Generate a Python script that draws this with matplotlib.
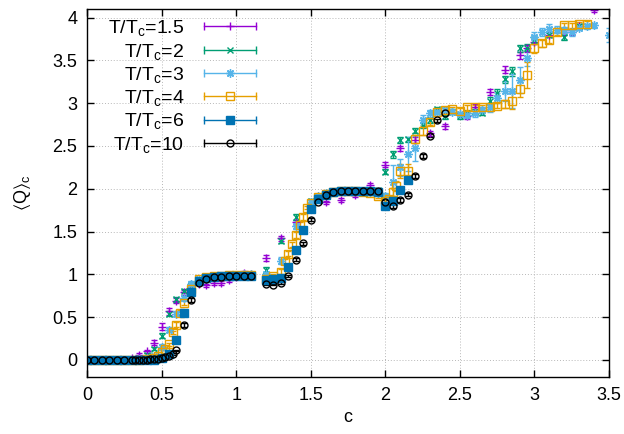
import matplotlib
matplotlib.use("Agg")
import matplotlib.pyplot as plt
from matplotlib.lines import Line2D
from matplotlib.legend_handler import HandlerBase

plt.rcParams['font.family'] = ['Liberation Sans', 'DejaVu Sans']
plt.rcParams['mathtext.fontset'] = 'custom'
plt.rcParams['mathtext.rm'] = 'Liberation Sans'
plt.rcParams['mathtext.it'] = 'Liberation Sans'
plt.rcParams['mathtext.fallback'] = 'stixsans'

# ---- data ----
labels = ['T/T$_\\mathrm{c}$=1.5', 'T/T$_\\mathrm{c}$=2', 'T/T$_\\mathrm{c}$=3',
          'T/T$_\\mathrm{c}$=4', 'T/T$_\\mathrm{c}$=6', 'T/T$_\\mathrm{c}$=10']

# T/Tc = 1.5
c_15 = [0.0, 0.05, 0.1, 0.15, 0.2, 0.25, 0.3, 0.35, 0.4, 0.45, 0.5, 0.55, 0.6, 0.65, 0.7, 0.75,
        0.8, 0.85, 0.9, 0.95, 1.0, 1.05, 1.1,
        1.2, 1.3, 1.4, 1.5, 1.6, 1.7, 1.8, 1.9, 2.0, 2.1, 2.2, 2.3, 2.4,
        2.55, 2.6, 2.7, 2.8, 2.9, 2.95, 3.0, 3.1, 3.2, 3.25, 3.3, 3.4]
q_15 = [0.0, 0.0, 0.0, 0.0, 0.0, 0.0, 0.02, 0.06, 0.1, 0.2, 0.39, 0.57, 0.69, 0.79, 0.86, 0.89,
        0.87, 0.9, 0.9, 0.93, 0.97, 1.02, 1.0,
        1.19, 1.42, 1.61, 1.8, 1.84, 1.87, 1.93, 2.04, 2.28, 2.47, 2.57, 2.65, 2.73,
        2.85, 2.96, 3.13, 3.39, 3.56, 3.64, 3.72, 3.8, 3.83, 3.83, 3.9, 4.09]
e_15 = [0.005, 0.005, 0.005, 0.005, 0.005, 0.005, 0.01, 0.02, 0.02, 0.03, 0.04, 0.04, 0.03, 0.03, 0.02, 0.02,
        0.02, 0.02, 0.02, 0.02, 0.02, 0.02, 0.02,
        0.03, 0.03, 0.03, 0.02, 0.02, 0.02, 0.03, 0.03, 0.03, 0.03, 0.03, 0.03, 0.03,
        0.03, 0.03, 0.03, 0.04, 0.04, 0.04, 0.03, 0.03, 0.03, 0.03, 0.03, 0.03]

# T/Tc = 2
c_2 = [0.0, 0.05, 0.1, 0.15, 0.2, 0.25, 0.3, 0.35, 0.4, 0.45, 0.5, 0.55, 0.6, 0.65, 0.7, 0.75,
       0.8, 0.85, 0.9, 0.95, 1.0, 1.05, 1.1,
       1.2, 1.3, 1.4, 1.5, 1.55, 1.6, 1.65, 1.7, 1.75, 1.8, 1.85, 1.9, 1.95,
       2.0, 2.05, 2.1, 2.15, 2.2, 2.25, 2.3, 2.35, 2.4, 2.45, 2.5, 2.55, 2.6, 2.65,
       2.7, 2.75, 2.8, 2.85, 2.9, 2.95, 3.0, 3.1, 3.2, 3.3]
q_2 = [0.0, 0.0, 0.0, 0.0, 0.0, 0.0, 0.01, 0.02, 0.06, 0.13, 0.28, 0.54, 0.71, 0.81, 0.88, 0.92,
       0.94, 0.96, 0.97, 0.98, 0.99, 1.0, 1.0,
       1.05, 1.39, 1.67, 1.86, 1.92, 1.94, 1.96, 1.97, 1.97, 1.97, 1.97, 1.96, 1.98,
       2.2, 2.4, 2.57, 2.58, 2.68, 2.74, 2.8, 2.93, 2.85, 2.9, 2.85, 2.88, 2.9, 2.89,
       3.03, 3.12, 3.28, 3.37, 3.64, 3.65, 3.74, 3.8, 3.77, 3.9]
e_2 = [0.005, 0.005, 0.005, 0.005, 0.005, 0.005, 0.01, 0.01, 0.02, 0.02, 0.03, 0.03, 0.03, 0.02, 0.02, 0.02,
       0.02, 0.01, 0.01, 0.01, 0.01, 0.01, 0.01,
       0.03, 0.03, 0.03, 0.02, 0.02, 0.01, 0.01, 0.01, 0.01, 0.01, 0.01, 0.01, 0.02,
       0.03, 0.04, 0.04, 0.03, 0.03, 0.03, 0.03, 0.03, 0.03, 0.03, 0.03, 0.03, 0.03, 0.03,
       0.04, 0.04, 0.04, 0.05, 0.04, 0.04, 0.04, 0.03, 0.03, 0.03]

# T/Tc = 3
c_3 = [0.0, 0.05, 0.1, 0.15, 0.2, 0.25, 0.3, 0.35, 0.4, 0.45, 0.5, 0.55, 0.6, 0.65, 0.7, 0.75,
       0.8, 0.85, 0.9, 0.95, 1.0, 1.05, 1.1,
       1.2, 1.3, 1.4, 1.5, 1.55, 1.6, 1.65, 1.7, 1.75, 1.8, 1.85, 1.9, 1.95, 2.0,
       2.05, 2.1, 2.15, 2.2, 2.25, 2.3, 2.35, 2.4, 2.45, 2.5,
       2.55, 2.6, 2.65, 2.7, 2.75, 2.8, 2.85, 2.9, 2.95, 3.0,
       3.05, 3.1, 3.15, 3.2, 3.25, 3.3, 3.35, 3.4, 3.5]
q_3 = [0.0, 0.0, 0.0, 0.0, 0.0, 0.0, 0.0, 0.01, 0.02, 0.05, 0.15, 0.35, 0.54, 0.72, 0.89, 0.94,
       0.96, 0.97, 0.98, 0.98, 0.99, 1.0, 1.0,
       1.0, 1.16, 1.57, 1.85, 1.92, 1.95, 1.96, 1.97, 1.97, 1.97, 1.97, 1.96, 1.95, 1.92,
       2.08, 2.25, 2.41, 2.47, 2.8, 2.88, 2.9, 2.92, 2.9, 2.87,
       2.86, 2.88, 2.92, 2.95, 3.06, 3.14, 3.14, 3.27, 3.53, 3.77,
       3.83, 3.87, 3.86, 3.85, 3.83, 3.88, 3.9, 3.91, 3.8]
e_3 = [0.005, 0.005, 0.005, 0.005, 0.005, 0.005, 0.005, 0.01, 0.01, 0.02, 0.03, 0.03, 0.03, 0.03, 0.03, 0.02,
       0.02, 0.01, 0.01, 0.01, 0.01, 0.01, 0.01,
       0.03, 0.04, 0.04, 0.03, 0.02, 0.01, 0.01, 0.01, 0.01, 0.01, 0.01, 0.01, 0.02, 0.03,
       0.2, 0.1, 0.2, 0.15, 0.06, 0.04, 0.03, 0.03, 0.03, 0.03,
       0.03, 0.04, 0.04, 0.05, 0.06, 0.12, 0.2, 0.15, 0.1, 0.06,
       0.05, 0.05, 0.04, 0.04, 0.04, 0.03, 0.03, 0.03, 0.08]

# T/Tc = 4
c_4 = [0.0, 0.05, 0.1, 0.15, 0.2, 0.25, 0.3, 0.35, 0.4, 0.45,
       0.475, 0.5, 0.525, 0.55, 0.575, 0.6, 0.625, 0.65,
       0.7, 0.75, 0.8, 0.85, 0.9, 0.95, 1.0, 1.05, 1.1,
       1.2, 1.25, 1.3, 1.325, 1.35, 1.375, 1.4, 1.425, 1.45, 1.475, 1.5,
       1.55, 1.6, 1.65, 1.7, 1.75, 1.8, 1.85, 1.9, 1.95,
       2.0, 2.025, 2.05, 2.075, 2.1, 2.15, 2.2, 2.25, 2.3,
       2.35, 2.4, 2.45, 2.5, 2.55, 2.6, 2.65, 2.7, 2.75, 2.8, 2.85,
       2.9, 2.95, 3.0, 3.05, 3.1, 3.15, 3.2, 3.25, 3.3, 3.35]
q_4 = [0.0, 0.0, 0.0, 0.0, 0.0, 0.0, 0.0, 0.0, 0.01, 0.02,
       0.05, 0.09, 0.13, 0.18, 0.32, 0.41, 0.55, 0.67,
       0.83, 0.94, 0.97, 0.98, 0.98, 0.99, 0.99, 0.99, 0.99,
       0.95, 0.98, 1.03, 1.15, 1.24, 1.35, 1.46, 1.58, 1.67, 1.78, 1.83,
       1.9, 1.94, 1.96, 1.97, 1.97, 1.97, 1.96, 1.95, 1.92,
       1.86, 1.88, 1.96, 2.03, 2.21, 2.21, 2.58, 2.68, 2.78,
       2.9, 2.92, 2.93, 2.91, 2.95, 2.95, 2.95, 2.96, 2.97, 2.99, 3.03,
       3.17, 3.33, 3.64, 3.7, 3.74, 3.83, 3.91, 3.91, 3.92, 3.93]
e_4 = [0.005, 0.005, 0.005, 0.005, 0.005, 0.005, 0.005, 0.005, 0.01, 0.01,
       0.01, 0.02, 0.02, 0.02, 0.02, 0.03, 0.03, 0.03,
       0.02, 0.02, 0.01, 0.01, 0.01, 0.01, 0.01, 0.01, 0.01,
       0.02, 0.02, 0.03, 0.03, 0.03, 0.03, 0.03, 0.03, 0.03, 0.02, 0.02,
       0.02, 0.01, 0.01, 0.01, 0.01, 0.01, 0.01, 0.02, 0.03,
       0.04, 0.04, 0.05, 0.06, 0.08, 0.08, 0.05, 0.05, 0.04,
       0.03, 0.03, 0.03, 0.03, 0.03, 0.03, 0.03, 0.03, 0.03, 0.05, 0.1,
       0.1, 0.15, 0.05, 0.04, 0.04, 0.03, 0.03, 0.03, 0.03, 0.03]

# T/Tc = 6
c_6 = [0.0, 0.05, 0.1, 0.15, 0.2, 0.25, 0.3, 0.35, 0.4, 0.45, 0.5, 0.55, 0.6, 0.65, 0.7, 0.75,
       0.8, 0.85, 0.9, 0.95, 1.0, 1.05, 1.1,
       1.2, 1.25, 1.3, 1.35, 1.4, 1.45, 1.5, 1.55, 1.6, 1.65, 1.7, 1.75, 1.8, 1.85,
       1.9, 1.95, 2.0, 2.05, 2.1, 2.15]
q_6 = [0.0, 0.0, 0.0, 0.0, 0.0, 0.0, 0.0, 0.0, 0.0, 0.0, 0.02, 0.07, 0.23, 0.55, 0.79, 0.92,
       0.96, 0.97, 0.98, 0.98, 0.98, 0.98, 0.98,
       0.93, 0.94, 0.96, 1.08, 1.28, 1.52, 1.76, 1.88, 1.93, 1.96, 1.97, 1.97, 1.97, 1.97,
       1.97, 1.96, 1.8, 1.86, 1.98, 2.1]
e_6 = [0.005, 0.005, 0.005, 0.005, 0.005, 0.005, 0.005, 0.005, 0.005, 0.005, 0.01, 0.01, 0.02, 0.02, 0.02, 0.01,
       0.01, 0.01, 0.01, 0.01, 0.01, 0.01, 0.01,
       0.01, 0.01, 0.01, 0.02, 0.02, 0.02, 0.02, 0.01, 0.01, 0.01, 0.01, 0.01, 0.01, 0.01,
       0.01, 0.01, 0.02, 0.02, 0.02, 0.02]

# T/Tc = 10
c_10 = [0.0, 0.05, 0.1, 0.15, 0.2, 0.25,
        0.3, 0.325, 0.35, 0.375, 0.4, 0.425, 0.45, 0.475, 0.5, 0.525, 0.55, 0.575, 0.6,
        0.65, 0.7, 0.75, 0.8, 0.85, 0.9, 0.95, 1.0, 1.05, 1.1,
        1.2, 1.25, 1.3, 1.35, 1.4, 1.45, 1.5, 1.55, 1.6, 1.65, 1.7, 1.75, 1.8,
        1.85, 1.9, 1.95, 2.0, 2.05, 2.1, 2.15, 2.2, 2.25, 2.3, 2.35, 2.4]
q_10 = [0.0, 0.0, 0.0, 0.0, 0.0, 0.0,
        0.0, 0.0, 0.0, 0.0, 0.0, 0.005, 0.01, 0.01, 0.02, 0.03, 0.05, 0.07, 0.11,
        0.41, 0.7, 0.9, 0.95, 0.97, 0.97, 0.98, 0.98, 0.98, 0.98,
        0.89, 0.88, 0.9, 0.98, 1.17, 1.36, 1.64, 1.85, 1.93, 1.96, 1.97, 1.97, 1.97,
        1.97, 1.97, 1.97, 1.85, 1.8, 1.87, 1.93, 2.15, 2.38, 2.62, 2.8, 2.88]
e_10 = [0.005, 0.005, 0.005, 0.005, 0.005, 0.005,
        0.005, 0.005, 0.005, 0.005, 0.005, 0.005, 0.005, 0.005, 0.01, 0.01, 0.01, 0.01, 0.01,
        0.02, 0.02, 0.01, 0.01, 0.01, 0.01, 0.01, 0.01, 0.01, 0.01,
        0.01, 0.01, 0.01, 0.01, 0.02, 0.02, 0.02, 0.01, 0.01, 0.01, 0.01, 0.01, 0.01,
        0.01, 0.01, 0.01, 0.02, 0.02, 0.02, 0.02, 0.02, 0.02, 0.02, 0.02, 0.02]

series = [(c_15, q_15, e_15), (c_2, q_2, e_2), (c_3, q_3, e_3),
          (c_4, q_4, e_4), (c_6, q_6, e_6), (c_10, q_10, e_10)]
colors = ['#9400d3', '#009e73', '#56b4e9', '#e69f00', '#0072b2', '#000000']
markers = ['+', 'x', (8, 2, 0), 's', 's', 'o']
fills = ['none', 'none', 'none', 'none', '#0072b2', 'none']
msizes = [6, 5, 6, 5.5, 5.5, 5]


class ErrKey(HandlerBase):
    # gnuplot style key: horizontal bar with end caps, point in the middle
    def create_artists(self, legend, orig, xd, yd, w, h, fontsize, trans):
        y = h / 2 - yd
        x0, x1 = -xd, -xd + w
        col = orig.get_color()
        bar = Line2D([x0, x1], [y, y], color=col, lw=1)
        caps = Line2D([x0, x1], [y, y], ls='none', marker='|', ms=6, mew=1, color=col)
        pt = Line2D([(x0 + x1) / 2], [y], ls='none', marker=orig.get_marker(),
                    ms=orig.get_markersize(), mfc=orig.get_markerfacecolor(), mec=col, mew=1)
        for a in (bar, caps, pt):
            a.set_transform(trans)
        return [bar, caps, pt]


fig = plt.figure(figsize=(6.24, 4.34), dpi=100)
ax = fig.add_axes([87 / 624, 57 / 434, 522 / 624, 368 / 434])

handles = []
for (cx, qy, ey), col, mk, fc, ms, lab in zip(series, colors, markers, fills, msizes, labels):
    ax.errorbar(cx, qy, yerr=ey, ls='none', color=col, marker=mk, mfc=fc, mec=col,
                ms=ms, mew=1, elinewidth=1, capsize=2.5, capthick=1)
    handles.append(Line2D([], [], color=col, marker=mk, mfc=fc, ms=ms, label=lab))

ax.set_xlim(0, 3.5)
ax.set_ylim(-0.2, 4.1)
ax.set_xticks([0, 0.5, 1, 1.5, 2, 2.5, 3, 3.5])
ax.set_xticklabels(['0', '0.5', '1', '1.5', '2', '2.5', '3', '3.5'])
ax.set_yticks([0, 0.5, 1, 1.5, 2, 2.5, 3, 3.5, 4])
ax.set_yticklabels(['0', '0.5', '1', '1.5', '2', '2.5', '3', '3.5', '4'])
ax.tick_params(direction='in', top=True, right=True, length=5, width=1, labelsize=13, pad=7)
ax.grid(True, color='#b8b8b8', lw=0.7, ls=(0, (1, 2)))
ax.set_axisbelow(True)
for s in ax.spines.values():
    s.set_linewidth(1)

ax.set_xlabel('c', fontsize=13, labelpad=4)
ax.set_ylabel('$\\langle$Q$\\rangle_\\mathrm{c}$', fontsize=13, labelpad=14)

leg = ax.legend(handles=handles, loc='upper right', bbox_to_anchor=(0.324, 0.975),
                frameon=False, markerfirst=False, fontsize=14, handlelength=2.7,
                handletextpad=1.0, labelspacing=0.17, borderpad=0, borderaxespad=0,
                handler_map={Line2D: ErrKey()})

fig.savefig('out.png', dpi=100)
